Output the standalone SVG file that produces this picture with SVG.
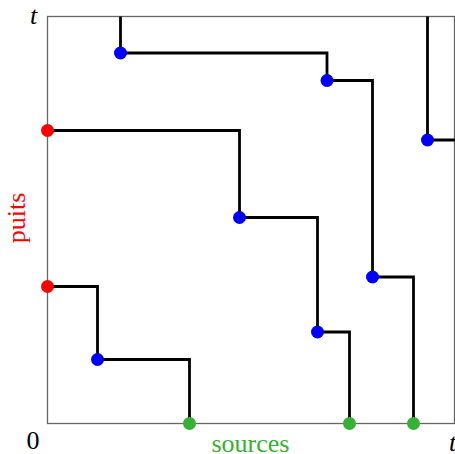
<svg xmlns="http://www.w3.org/2000/svg" width="455" height="454" viewBox="0 0 455 454">
<style>
.frame{fill:none;stroke:#666;stroke-width:1.3}
.path{fill:none;stroke:#000;stroke-width:2.8;stroke-linejoin:miter;stroke-linecap:butt}
.b{fill:#0000ff}.r{fill:#ff0000}.g{fill:#33b233}
.lbl{font-family:"Liberation Serif","DejaVu Serif",serif;font-size:26px}
.it{font-style:italic}
</style>
<rect width="455" height="454" fill="#fff"/>
<rect class="frame" x="47.5" y="16.5" width="407" height="407"/>
<g id="connectors">
<polyline class="path" points="120.5,16.5 120.5,53 327,53 327,80.5 372.5,80.5 372.5,277 413.5,277 413.5,423.5"/>
<polyline class="path" points="427.5,16.5 427.5,140 455,140"/>
<polyline class="path" points="47.5,130.5 239.5,130.5 239.5,217.5 317.5,217.5 317.5,332 349.5,332 349.5,423.5"/>
<polyline class="path" points="47.5,286.5 97.5,286.5 97.5,359.5 189.5,359.5 189.5,423.5"/>
</g>
<g id="n1"><circle class="b" cx="120.5" cy="53" r="6.5"/></g>
<g id="n2"><circle class="b" cx="327" cy="80.5" r="6.5"/></g>
<g id="n3"><circle class="b" cx="372.5" cy="277" r="6.5"/></g>
<g id="n4"><circle class="b" cx="427.5" cy="140" r="6.5"/></g>
<g id="n5"><circle class="b" cx="239.5" cy="217.5" r="6.5"/></g>
<g id="n6"><circle class="b" cx="317.5" cy="332" r="6.5"/></g>
<g id="n7"><circle class="b" cx="97.5" cy="359.5" r="6.5"/></g>
<g id="s1"><circle class="r" cx="47.5" cy="130.5" r="6.5"/></g>
<g id="s2"><circle class="r" cx="47.5" cy="286.5" r="6.5"/></g>
<g id="src1"><circle class="g" cx="189.5" cy="423.5" r="6.5"/></g>
<g id="src2"><circle class="g" cx="349.5" cy="423.5" r="6.5"/></g>
<g id="src3"><circle class="g" cx="413.5" cy="423.5" r="6.5"/></g>
<g id="labels">
<text class="lbl it" x="33.5" y="24" text-anchor="middle">t</text>
<text class="lbl" x="33" y="449" text-anchor="middle">0</text>
<text class="lbl it" x="449" y="451">t</text>
<text class="lbl" x="250.5" y="452" text-anchor="middle" fill="#33b233">sources</text>
<text class="lbl" x="0" y="0" text-anchor="middle" fill="#ff0000" transform="translate(25,218) rotate(-90)">puits</text>
</g>
</svg>
